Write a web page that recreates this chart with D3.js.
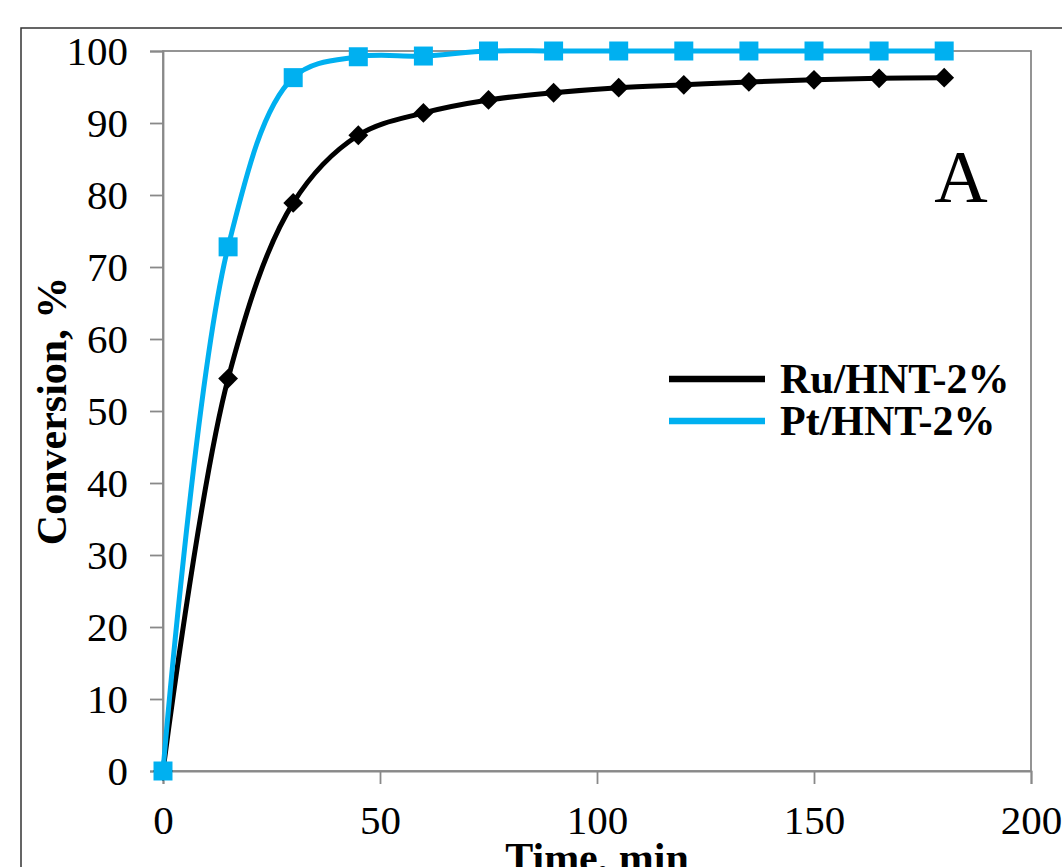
<!DOCTYPE html>
<html>
<head>
<meta charset="utf-8">
<script src="https://cdn.jsdelivr.net/npm/d3@7"></script>
<style>
    body { margin: 0; background: #fff; }
    svg { display: block; }
</style>
</head>
<body>
<svg id="chart"></svg>
<script>
// data
const times = [0, 15, 30, 45, 60, 75, 90, 105, 120, 135, 150, 165, 180];
const ruValues = [0, 54.5, 78.9, 88.3, 91.4, 93.2, 94.2, 94.9, 95.3, 95.7, 96.0, 96.2, 96.3];
const ptValues = [0, 72.8, 96.3, 99.2, 99.3, 100, 100, 100, 100, 100, 100, 100, 100];
const seriesNames = ["Ru/HNT-2%", "Pt/HNT-2%"];
const xTicks = [0, 50, 100, 150, 200];
const yTicks = [0, 10, 20, 30, 40, 50, 60, 70, 80, 90, 100];

const series = [
    { name: seriesNames[0], values: ruValues, color: "#000000", marker: "diamond" },
    { name: seriesNames[1], values: ptValues, color: "#00b0f0", marker: "square" }
];

// dimensions
const width = 1062,
    height = 867,
    margin = { top: 51, right: 31, bottom: 96, left: 163 };
const innerW = width - margin.left - margin.right,
    innerH = height - margin.top - margin.bottom;

const svg = d3.select("#chart")
    .attr("width", width)
    .attr("height", height)
    .style("font-family", "'Liberation Serif', 'Times New Roman', serif");

// outer frame (runs off the right and bottom edges)
svg.append("rect")
    .attr("x", 21).attr("y", 28)
    .attr("width", 1100).attr("height", 1000)
    .attr("fill", "none")
    .attr("stroke", "#333")
    .attr("stroke-width", 1.5);

const g = svg.append("g")
    .attr("transform", `translate(${margin.left},${margin.top})`);

const xScale = d3.scaleLinear().domain([0, 200]).range([0, innerW]);
const yScale = d3.scaleLinear().domain([0, 100]).range([innerH, 0]);

// plot area border
g.append("rect")
    .attr("width", innerW)
    .attr("height", innerH)
    .attr("fill", "none")
    .attr("stroke", "#898989")
    .attr("stroke-width", 1.8);

// axes
const xAxis = g.append("g")
    .attr("transform", `translate(0,${innerH})`)
    .call(d3.axisBottom(xScale).tickValues(xTicks).tickSize(13).tickPadding(10).tickFormat(d3.format("d")));
const yAxis = g.append("g")
    .call(d3.axisLeft(yScale).tickValues(yTicks).tickSize(13).tickPadding(22).tickFormat(d3.format("d")));

[xAxis, yAxis].forEach(ax => {
    ax.select(".domain").attr("stroke", "#898989").attr("stroke-width", 1.8);
    ax.selectAll(".tick line").attr("stroke", "#898989").attr("stroke-width", 1.8);
    ax.selectAll("text")
        .style("font-family", "'Liberation Serif', 'Times New Roman', serif")
        .style("font-size", "41px")
        .attr("fill", "#000");
});
xAxis.selectAll("text").attr("dy", null).attr("y", 63);
yAxis.selectAll("text").attr("dy", "0.34em");

// axis titles
svg.append("text")
    .attr("x", margin.left + innerW / 2)
    .attr("y", 872)
    .attr("text-anchor", "middle")
    .style("font-size", "42px")
    .style("font-weight", "bold")
    .text("Time, min");

svg.append("text")
    .attr("transform", `translate(66,${margin.top + innerH / 2}) rotate(-90)`)
    .attr("text-anchor", "middle")
    .style("font-size", "42px")
    .style("font-weight", "bold")
    .text("Conversion, %");

// panel letter
svg.append("text")
    .attr("x", 961)
    .attr("y", 202)
    .attr("text-anchor", "middle")
    .style("font-size", "74px")
    .text("A");

// lines
const line = d3.line()
    .x(d => xScale(d[0]))
    .y(d => yScale(d[1]))
    .curve(d3.curveCatmullRom.alpha(0.5));

series.forEach(s => {
    const pts = times.map((t, i) => [t, s.values[i]]);
    g.append("path")
        .datum(pts)
        .attr("fill", "none")
        .attr("stroke", s.color)
        .attr("stroke-width", 5)
        .attr("d", line);

    const sym = s.marker === "square"
        ? d3.symbol().type(d3.symbolSquare).size(19 * 19)
        : d3.symbol().type(d3.symbolSquare).size(14 * 14);

    g.selectAll(null)
        .data(pts)
        .enter()
        .append("path")
        .attr("d", sym)
        .attr("fill", s.color)
        .attr("transform", d => `translate(${xScale(d[0])},${yScale(d[1])})` + (s.marker === "diamond" ? " rotate(45)" : ""));
});

// legend
const legend = svg.append("g").attr("transform", "translate(669,379)");
series.forEach((s, i) => {
    const row = legend.append("g").attr("transform", `translate(0,${i * 42})`);
    row.append("line")
        .attr("x1", 0).attr("x2", 96)
        .attr("stroke", s.color)
        .attr("stroke-width", 6.5);
    row.append("text")
        .attr("x", 111)
        .attr("y", 14)
        .style("font-size", "42px")
        .style("font-weight", "bold")
        .text(s.name);
});
</script>
</body>
</html>
